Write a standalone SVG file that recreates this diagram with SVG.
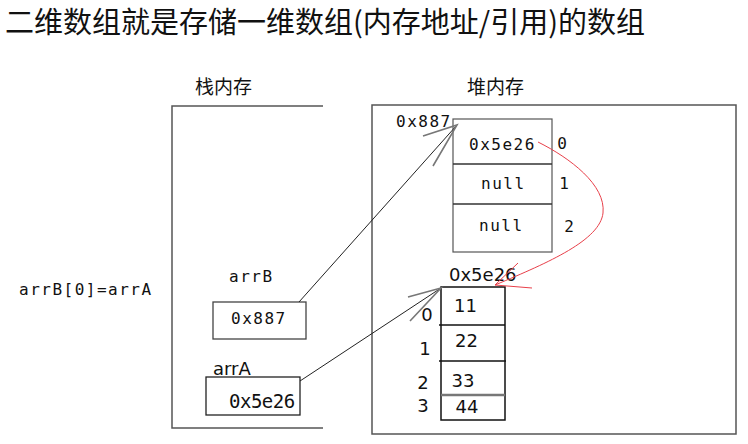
<svg xmlns="http://www.w3.org/2000/svg" width="748" height="444" viewBox="0 0 748 444">
<style>
.cjk{font-family:"Noto Sans CJK SC",sans-serif;fill:#111}
.m{font-family:"DejaVu Sans Mono",monospace;font-size:16px;letter-spacing:1.5px;fill:#111}
.m0{letter-spacing:0}
.big{font-size:19px;letter-spacing:-0.5px}
.s{font-family:"DejaVu Sans",sans-serif;font-size:18px;fill:#111}
.box{fill:none;stroke:#555;stroke-width:1.5}
.ln{fill:none;stroke:#222;stroke-width:1}
.barb{fill:none;stroke:#777;stroke-width:1.6}
.red{fill:none;stroke:#e8404a;stroke-width:1}
</style>
<rect width="748" height="444" fill="#fff"/>
<text class="cjk" x="5" y="33" style="font-size:29px">二维数组就是存储一维数组(内存地址/引用)的数组</text>
<text class="m" x="19" y="295">arrB[0]=arrA</text>

<g id="stack">
<path class="box" d="M323,106 H172 V428 H323"/>
<text class="cjk" x="195" y="94" style="font-size:19px">栈内存</text>
</g>
<g id="heap">
<rect class="box" x="372" y="105" width="364" height="329"/>
<text class="cjk" x="467" y="94" style="font-size:19px">堆内存</text>
</g>

<g id="arrB">
<text class="m" x="229" y="282">arrB</text>
<rect x="213" y="302" width="93" height="37" fill="none" stroke="#444" stroke-width="1.3"/>
<text class="m" x="231" y="324">0x887</text>
</g>
<g id="arrA">
<text class="s" x="213" y="375">arrA</text>
<rect x="206" y="377" width="94" height="38" fill="none" stroke="#222" stroke-width="1.3"/>
<text class="m big" x="229" y="408">0x5e26</text>
</g>

<g id="array-0x887">
<text class="m" x="396" y="127">0x887</text>
<rect x="453" y="119" width="99" height="133" fill="none" stroke="#555" stroke-width="1.2"/>
<line x1="453" y1="164" x2="552" y2="164" stroke="#333" stroke-width="1.5"/>
<line x1="453" y1="204" x2="552" y2="204" stroke="#333" stroke-width="1.5"/>
<text class="m" x="469" y="150">0x5e26</text>
<text class="m" x="481" y="189">null</text>
<text class="m" x="479" y="231">null</text>
<text class="m m0" x="562" y="149" text-anchor="middle">0</text>
<text class="m m0" x="564" y="189" text-anchor="middle">1</text>
<text class="m m0" x="569" y="232" text-anchor="middle">2</text>
</g>

<g id="array-0x5e26">
<text class="s" x="449" y="281">0x5e26</text>
<rect x="441" y="287" width="64" height="133" fill="none" stroke="#111" stroke-width="1.5"/>
<line x1="439" y1="325" x2="505" y2="325" stroke="#111" stroke-width="1.3"/>
<line x1="439" y1="361" x2="506" y2="361" stroke="#111" stroke-width="1.3"/>
<line x1="441" y1="395" x2="505" y2="395" stroke="#777" stroke-width="2.5"/>
<text class="s" x="465.5" y="312" text-anchor="middle">11</text>
<text class="s" x="466.5" y="347" text-anchor="middle">22</text>
<text class="s" x="463" y="387" text-anchor="middle">33</text>
<text class="s" x="467" y="413" text-anchor="middle">44</text>
<text class="s" x="427" y="321" text-anchor="middle">0</text>
<text class="s" x="425" y="355" text-anchor="middle">1</text>
<text class="s" x="423" y="389" text-anchor="middle">2</text>
<text class="s" x="423" y="412" text-anchor="middle">3</text>
</g>

<g id="connectors">
<path class="ln" d="M299,302 L457,125"/>
<path class="barb" d="M423,136 L457,125 L433,166"/>
<path class="ln" d="M300,381 L441,288"/>
<path class="barb" d="M408,297 L441,288 L410,321"/>
<path class="red" d="M538,142 C570,158 606,185 603,213 C600,240 550,262 495,285"/>
<path class="red" d="M518,263 L495,285 L532,288"/>
</g>
</svg>
